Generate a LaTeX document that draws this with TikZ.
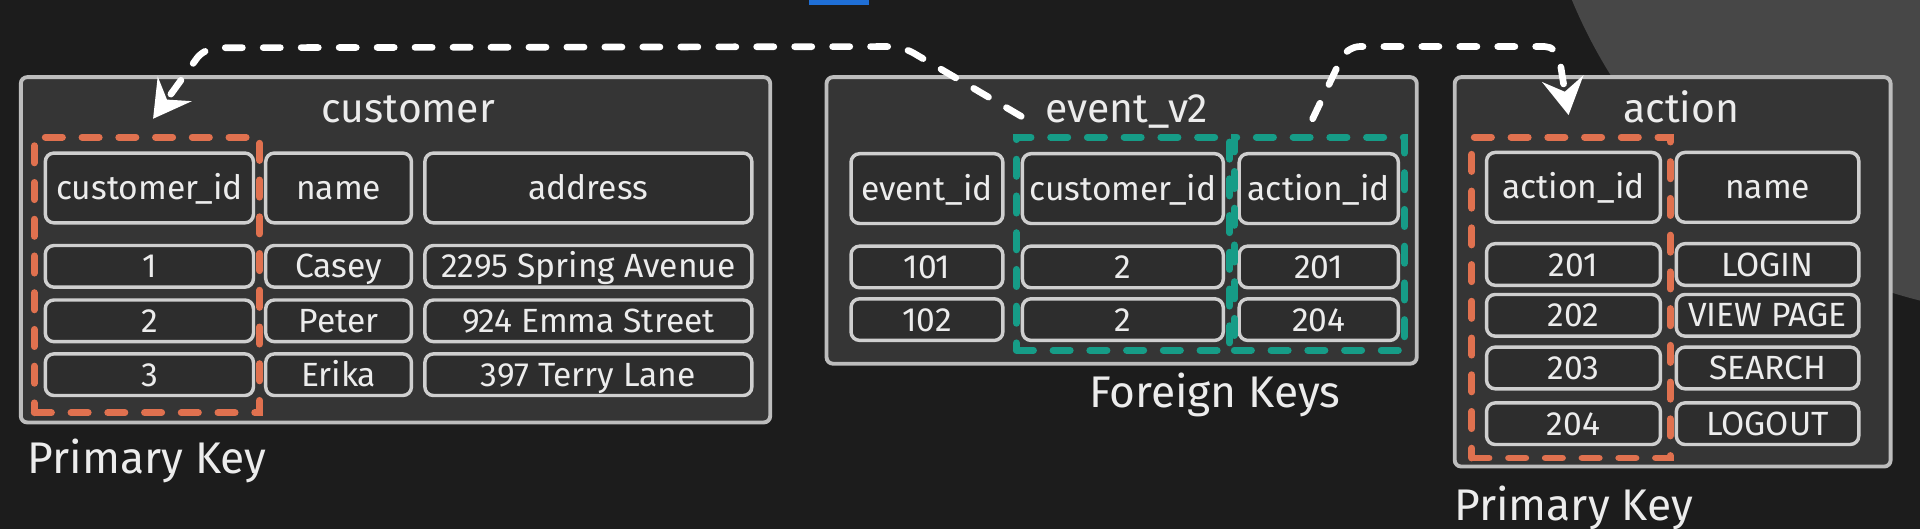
\documentclass[tikz,border=0pt]{standalone}
\usepackage{fontspec}
\setmainfont{Fira Sans}
\usetikzlibrary{arrows.meta}

\definecolor{bg}{HTML}{1C1C1C}
\definecolor{halo}{HTML}{474747}
\definecolor{boxfill}{HTML}{353535}
\definecolor{boxline}{HTML}{BDBDBD}
\definecolor{cellfill}{HTML}{2D2D2D}
\definecolor{cellline}{HTML}{CFCFCF}
\definecolor{txt}{HTML}{ECECEC}
\definecolor{pkorange}{HTML}{E0714F}
\definecolor{fkteal}{HTML}{169C87}
\definecolor{tabblue}{HTML}{1F6FD6}

\tikzset{
  tablebox/.style={draw=boxline, fill=boxfill, line width=0.9pt, rounded corners=1.5pt},
  tabletitle/.style={text=txt, font=\fontsize{9.5}{11}\selectfont, anchor=base, inner sep=0pt},
  headcell/.style={draw=cellline, fill=cellfill, line width=0.8pt, rounded corners=2pt,
    inner sep=0pt, minimum height=0.57cm, text=txt, text height=0.72em, text depth=0.18em,
    font=\fontsize{7.8}{9}\selectfont},
  datacell/.style={headcell, minimum height=0.34cm},
  pkframe/.style={draw=pkorange, line width=1.6pt, dash pattern=on 0.14cm off 0.16cm,
    line cap=round, inner sep=0pt},
  fkframe/.style={pkframe, draw=fkteal},
  keylabel/.style={text=txt, font=\fontsize{10.3}{12}\selectfont, anchor=base west, inner sep=0pt},
  link/.style={draw=white, line width=1.55pt, dash pattern=on 0.14cm off 0.17cm, line cap=round,
    rounded corners=3pt, -{Stealth[length=8.5pt, width=9.6pt, inset=3pt]}}
}

\begin{document}
\begin{tikzpicture}
\useasboundingbox (0,0) rectangle (15.68,4.32);
\fill[bg] (0,0) rectangle (15.68,4.32);
\begin{scope}
  \clip (0,0) rectangle (15.68,4.32);
  \fill[halo] (16.70,5.92) circle (4.18);
\end{scope}
\fill[tabblue] (6.61,4.28) rectangle (7.10,4.32);

% customer
\node[tablebox, minimum width=6.12cm, minimum height=2.82cm] (customer) at (3.23,2.28) {};
\node[tabletitle] (customertitle) at (3.335,3.32) {customer};
\node[headcell, minimum width=1.70cm] (custid) at (1.22,2.785) {customer\_id};
\node[headcell, minimum width=1.19cm] (custname) at (2.765,2.785) {name};
\node[headcell, minimum width=2.67cm] (custaddr) at (4.805,2.785) {address};
\node[datacell, minimum width=1.70cm] (cid1) at (1.22,2.145) {1};
\node[datacell, minimum width=1.19cm] (cname1) at (2.765,2.145) {Casey};
\node[datacell, minimum width=2.67cm] (caddr1) at (4.805,2.145) {2295 Spring Avenue};
\node[datacell, minimum width=1.70cm] (cid2) at (1.22,1.70) {2};
\node[datacell, minimum width=1.19cm] (cname2) at (2.765,1.70) {Peter};
\node[datacell, minimum width=2.67cm] (caddr2) at (4.805,1.70) {924 Emma Street};
\node[datacell, minimum width=1.70cm] (cid3) at (1.22,1.26) {3};
\node[datacell, minimum width=1.19cm] (cname3) at (2.765,1.26) {Erika};
\node[datacell, minimum width=2.67cm] (caddr3) at (4.805,1.26) {397 Terry Lane};
\node[pkframe, minimum width=1.84cm, minimum height=2.25cm] (custpk) at (1.20,2.075) {};
\node[keylabel] (custpklabel) at (0.22,0.45) {Primary Key};

% event_v2
\node[tablebox, minimum width=4.82cm, minimum height=2.34cm] (event) at (9.16,2.52) {};
\node[tabletitle] (eventtitle) at (9.20,3.32) {event\_v2};
\node[headcell, minimum width=1.24cm] (evid) at (7.57,2.78) {event\_id};
\node[headcell, minimum width=1.64cm] (evcust) at (9.17,2.78) {customer\_id};
\node[headcell, minimum width=1.30cm] (evact) at (10.77,2.78) {action\_id};
\node[datacell, minimum width=1.24cm] (evid1) at (7.57,2.14) {101};
\node[datacell, minimum width=1.64cm] (evcust1) at (9.17,2.14) {2};
\node[datacell, minimum width=1.30cm] (evact1) at (10.77,2.14) {201};
\node[datacell, minimum width=1.24cm] (evid2) at (7.57,1.71) {102};
\node[datacell, minimum width=1.64cm] (evcust2) at (9.17,1.71) {2};
\node[datacell, minimum width=1.30cm] (evact2) at (10.77,1.71) {204};
\node[fkframe, minimum width=1.74cm, minimum height=1.74cm] (evcustfk) at (9.17,2.33) {};
\node[fkframe, minimum width=1.39cm, minimum height=1.74cm] (evactfk) at (10.775,2.33) {};
\node[keylabel, anchor=base] (fklabel) at (9.92,0.99) {Foreign Keys};

% action
\node[tablebox, minimum width=3.56cm, minimum height=3.18cm] (action) at (13.66,2.10) {};
\node[tabletitle] (actiontitle) at (13.73,3.32) {action};
\node[headcell, minimum width=1.42cm] (actid) at (12.85,2.79) {action\_id};
\node[headcell, minimum width=1.49cm] (actname) at (14.435,2.79) {name};
\node[datacell, minimum width=1.42cm] (aid1) at (12.85,2.16) {201};
\node[datacell, minimum width=1.49cm] (aname1) at (14.435,2.16) {LOGIN};
\node[datacell, minimum width=1.42cm] (aid2) at (12.85,1.745) {202};
\node[datacell, minimum width=1.49cm] (aname2) at (14.435,1.745) {VIEW PAGE};
\node[datacell, minimum width=1.42cm] (aid3) at (12.85,1.315) {203};
\node[datacell, minimum width=1.49cm] (aname3) at (14.435,1.315) {SEARCH};
\node[datacell, minimum width=1.42cm] (aid4) at (12.85,0.86) {204};
\node[datacell, minimum width=1.49cm] (aname4) at (14.435,0.86) {LOGOUT};
\node[pkframe, minimum width=1.62cm, minimum height=2.62cm] (actpk) at (12.83,1.89) {};
\node[keylabel] (actpklabel) at (11.87,0.07) {Primary Key};

% links
\coordinate (custfk) at (8.34,3.37);
\coordinate (custpkin) at (1.25,3.35);
\coordinate (actfk) at (10.72,3.35);
\coordinate (actpkin) at (12.81,3.38);
\draw[link] (custfk) -- (7.37,3.94) -- (1.67,3.93) -- (custpkin);
\draw[link] (actfk) -- (11.00,3.94) -- (12.72,3.94) -- (actpkin);
\end{tikzpicture}
\end{document}
